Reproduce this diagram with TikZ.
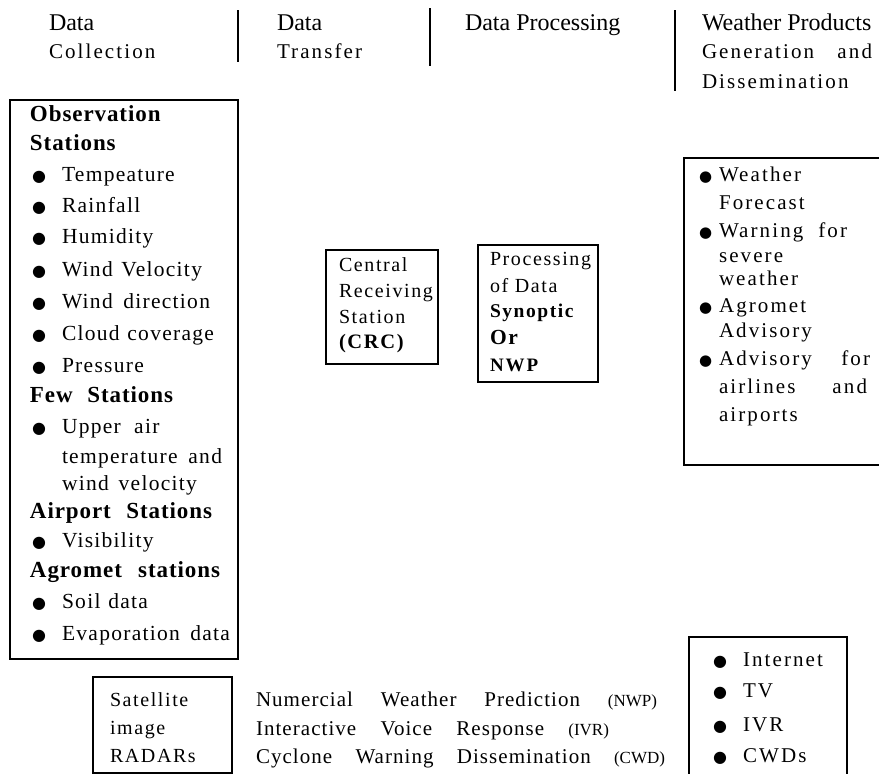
\documentclass[tikz,border=0pt]{standalone}
\usepackage{fontspec}
\setmainfont{Liberation Serif}
\newfontfamily\fa[LetterSpace=6]{Liberation Serif}
\newfontfamily\fh[LetterSpace=4]{Liberation Serif}
\newfontfamily\fb[LetterSpace=10]{Liberation Serif}
\newfontfamily\fc[LetterSpace=8]{Liberation Serif}
\newfontfamily\fd[LetterSpace=8]{Liberation Serif}
\newfontfamily\fm[LetterSpace=5]{Liberation Serif}
\newfontfamily\bulf{DejaVu Sans}
\newcommand\sz[1]{\fontsize{#1}{#1}\selectfont}
\newcommand\bu{{\bulf\sz{16}●}}
\newcommand\bus{{\bulf\sz{15}●}}
\begin{document}
\begin{tikzpicture}[x=1pt,y=-1pt,
  txt/.style={anchor=base west,inner sep=0pt,outer sep=0pt},
  hd/.style={txt,font=\rmfamily\sz{24}},
  hl/.style={txt,font=\fb\sz{21}},
  lb/.style={txt,font=\fa\sz{21.5}},
  lh/.style={txt,font=\fh\bfseries\sz{23}},
  cb/.style={txt,font=\fc\sz{20}},
  rb/.style={txt,font=\fb\sz{21}},
  sb/.style={txt,font=\fd\sz{20}},
  mb/.style={txt,font=\fm\sz{21}},
  frame/.style={draw,line width=1.2pt},
  sep/.style={line width=1.2pt}]
\useasboundingbox (0,0) rectangle (879,774);
\clip (0,0) rectangle (879,774);

% header
\node[hd] (h1a) at (49,30) {Data};
\node[hl] (h1b) at (49,58) {Collection};
\node[hd] (h2a) at (277,30) {Data};
\node[hl] (h2b) at (277,58) {Transfer};
\node[hd] (h3a) at (465,30) {Data Processing};
\node[hd] (h4a) at (702,30) {Weather Products};
\node[hl] (h4b) at (702,58) {\makebox[170pt][s]{Generation and}};
\node[hl] (h4c) at (702,88) {Dissemination};
\coordinate (s1t) at (238,10); \coordinate (s1b) at (238,62);
\coordinate (s2t) at (430,8);  \coordinate (s2b) at (430,66);
\coordinate (s3t) at (675,10); \coordinate (s3b) at (675,91);
\draw[sep] (s1t) -- (s1b);
\draw[sep] (s2t) -- (s2b);
\draw[sep] (s3t) -- (s3b);

% left box
\draw[frame] (10,100) rectangle (238,659);
\node[lh] (l1) at (30,121) {Observation};
\node[lh] (l2) at (30,150) {Stations};
\node[lb] (l3) at (32,181) {\makebox[30pt][l]{\bu}Tempeature};
\node[lb] (l4) at (32,212) {\makebox[30pt][l]{\bu}Rainfall};
\node[lb] (l5) at (32,243) {\makebox[30pt][l]{\bu}Humidity};
\node[lb] (l6) at (32,276) {\makebox[30pt][l]{\bu}\makebox[140pt][s]{Wind Velocity}};
\node[lb] (l7) at (32,308) {\makebox[30pt][l]{\bu}\makebox[148pt][s]{Wind direction}};
\node[lb] (l8) at (32,340) {\makebox[30pt][l]{\bu}\makebox[152pt][s]{Cloud coverage}};
\node[lb] (l9) at (32,372) {\makebox[30pt][l]{\bu}Pressure};
\node[lh] (l10) at (30,402) {\makebox[143pt][s]{Few Stations}};
\node[lb] (l11) at (32,433) {\makebox[30pt][l]{\bu}Upper\ \ air};
\node[lb] (l12) at (62,463) {\makebox[160pt][s]{temperature and}};
\node[lb] (l13) at (62,490) {\makebox[135pt][s]{wind velocity}};
\node[lh] (l14) at (30,518) {\makebox[182pt][s]{Airport Stations}};
\node[lb] (l15) at (32,547) {\makebox[30pt][l]{\bu}Visibility};
\node[lh] (l16) at (30,577) {\makebox[190pt][s]{Agromet stations}};
\node[lb] (l17) at (32,608) {\makebox[30pt][l]{\bu}\makebox[86pt][s]{Soil data}};
\node[lb] (l18) at (32,640) {\makebox[30pt][l]{\bu}\makebox[168pt][s]{Evaporation data}};

% CRC box
\draw[frame] (326,250) rectangle (438,364);
\node[cb] (c1) at (339,271) {Central};
\node[cb] (c2) at (339,297) {Receiving};
\node[cb] (c3) at (339,323) {Station};
\node[cb,font=\fc\bfseries\sz{20.5}] (c4) at (339,348) {(CRC)};

% processing box
\draw[frame] (478,245) rectangle (598,382);
\node[cb] (p1) at (490,265) {Processing};
\node[cb] (p2) at (490,292) {of Data};
\node[cb,font=\fc\bfseries\sz{19.5}] (p3) at (490,317) {Synoptic};
\node[cb,font=\fc\bfseries\sz{21.5}] (p4) at (490,344) {Or};
\node[cb,font=\fc\bfseries\sz{19}] (p5) at (490,371) {N\kern2pt W\kern2pt P};

% right box
\draw[frame] (684,158) rectangle (890,465);
\node[rb] (r1) at (699,181) {\makebox[20pt][l]{\bus}Weather};
\node[rb] (r2) at (719,209) {Forecast};
\node[rb] (r3) at (699,237) {\makebox[20pt][l]{\bus}\makebox[128pt][s]{Warning for}};
\node[rb] (r4) at (719,262) {severe};
\node[rb] (r5) at (719,285) {weather};
\node[rb] (r6) at (699,312) {\makebox[20pt][l]{\bus}Agromet};
\node[rb] (r7) at (719,337) {Advisory};
\node[rb] (r8) at (699,365) {\makebox[20pt][l]{\bus}\makebox[151pt][s]{Advisory for}};
\node[rb] (r9) at (719,393) {\makebox[148pt][s]{airlines and}};
\node[rb] (r10) at (719,421) {airports};

% satellite box
\draw[frame] (93,677) rectangle (232,773);
\node[sb] (s1) at (110,706) {Satellite};
\node[sb] (s2) at (110,734) {image};
\node[sb] (s3) at (110,762) {RADARs};

% middle text
\node[mb] (m1) at (256,706) {\makebox[401pt][s]{Numercial Weather Prediction {\rmfamily\sz{17}(NWP)}}};
\node[mb] (m2) at (256,735) {\makebox[353pt][s]{Interactive Voice Response {\rmfamily\sz{17}(IVR)}}};
\node[mb] (m3) at (256,763) {\makebox[409pt][s]{Cyclone Warning Dissemination {\rmfamily\sz{17}(CWD)}}};

% bottom right box
\draw[frame] (689,637) rectangle (847,790);
\node[rb] (b1) at (713,666) {\makebox[30pt][l]{\bu}Internet};
\node[rb] (b2) at (713,697) {\makebox[30pt][l]{\bu}TV};
\node[rb] (b3) at (713,731) {\makebox[30pt][l]{\bu}IVR};
\node[rb] (b4) at (713,762) {\makebox[30pt][l]{\bu}CWDs};
\end{tikzpicture}
\end{document}
